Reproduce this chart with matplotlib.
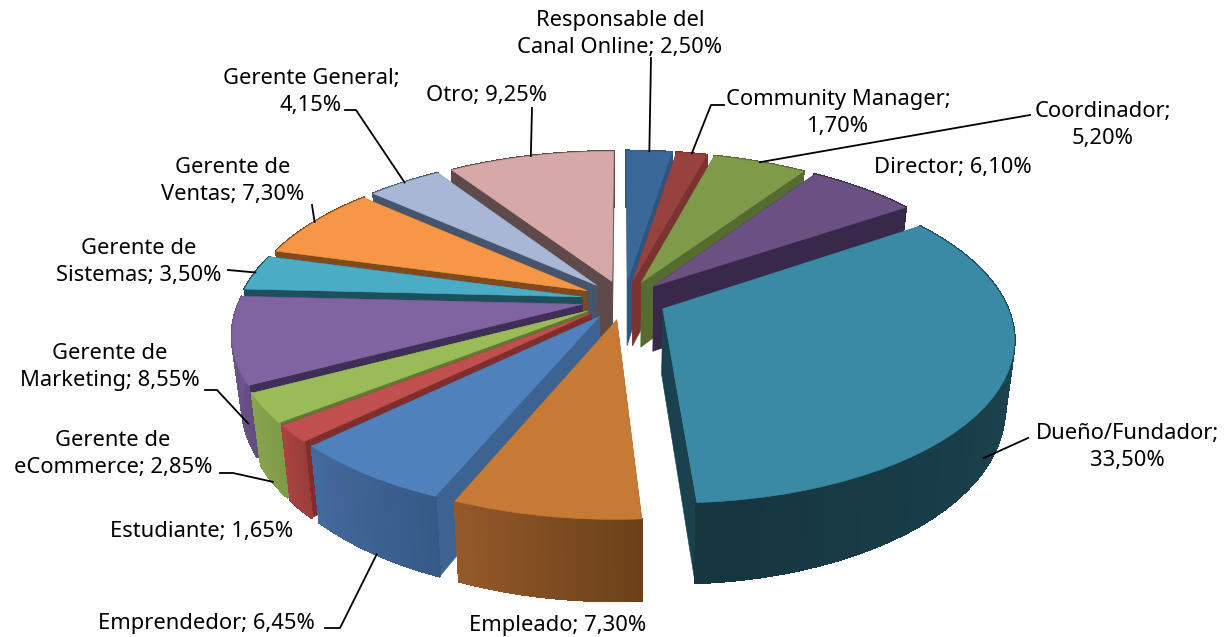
import numpy as np
import matplotlib
matplotlib.use("Agg")
import matplotlib.pyplot as plt
from matplotlib.patches import Polygon
from matplotlib.colors import to_rgb

names = ["Responsable del\nCanal Online", "Community Manager;\n", "Coordinador;\n", "Director", "Dueño/Fundador;\n",
         "Empleado", "Emprendedor", "Estudiante", "Gerente de\neCommerce", "Gerente de\nMarketing",
         "Gerente de\nSistemas", "Gerente de\nVentas", "Gerente General;\n", "Otro"]
values = [2.50, 1.70, 5.20, 6.10, 33.50, 7.30, 6.45, 1.65, 2.85, 8.55, 3.50, 7.30, 4.15, 9.25]
top_colors = ["#3A6899", "#984240", "#7F9A48", "#6A5083", "#3A8AA5", "#C77A36", "#4F81BD", "#BF504D",
              "#9BBB59", "#8064A2", "#4BACC6", "#F79646", "#A8B7D6", "#D6A8A8"]
cut_colors = ["#2E5580", "#7A3331", "#556B30", "#38284A", "#1A424E", "#8A5225", "#3D6392", "#7E2F2D",
              "#5F7A32", "#3F2E55", "#1E4F5C", "#7F4A1C", "#46556C", "#5E4A4A"]
wall_from = ["#2E5580", "#7A3331", "#556B30", "#38284A", "#1F4D5A", "#6C4119", "#365A88", "#993D3A",
             "#7F9A48", "#634E80", "#1E4F5C", "#7F4A1C", "#46556C", "#5E4A4A"]
wall_to = ["#2E5580", "#7A3331", "#556B30", "#38284A", "#163640", "#94592A", "#436A9C", "#A84340",
           "#87A34C", "#6F578E", "#1E4F5C", "#7F4A1C", "#46556C", "#5E4A4A"]

# label layout (pixels): text centre, then leader waypoints
label_xy = [(620, 34), (838, 113), (1103, 125), (953, 168), (1127, 447), (558, 625), (206, 623), (202, 532),
            (113, 454), (110, 367), (139, 262), (233, 181), (311, 92), (487, 96)]
leaders = [[(651, 58)], [(711, 105), (724, 105)], [(1030, 115)], [], [(1028, 438)], [], [(340, 628), (325, 628)], [],
           [(233, 473), (220, 473)], [(217, 390), (205, 390)], [(228, 270)], [(312, 205)],
           [(356, 110), (345, 110)], [(532, 108)]]
leader_z = [0, 0, 0, 0, 0.8, 0, 1, 0, 1, 0.7, 0, 0, 0, 0]
leader_frac = [.5, .5, .5, .5, .54, .5, .47, .5, .5, .13, .5, .5, .5, .5]

CX, CY, RX, RY, P, EXPL, DEPTH, TAPER = 624, 300, 342, 158, 0.17, 0.125, 66, 0.025

def project(x, y, z=0.0):
    s = 1 / (1 + P * y)
    return CX + RX * x * s * (1 - TAPER * z), CY - RY * y * s + DEPTH * z * s

fig = plt.figure(figsize=(12.24, 6.37), dpi=100)
ax = fig.add_axes([0, 0, 1, 1])
ax.set_xlim(0, 1224)
ax.set_ylim(637, 0)
ax.axis("off")

edges = np.concatenate([[0], np.cumsum(values)]) / 100 * 2 * np.pi
mids = (edges[:-1] + edges[1:]) / 2
order = np.argsort(-np.cos(mids))

def off(i):
    return EXPL * np.sin(mids[i]), EXPL * np.cos(mids[i])

for i in order:
    ox, oy = off(i)
    th = np.linspace(edges[i], edges[i + 1], 40)
    xs, ys = ox + np.sin(th), oy + np.cos(th)
    top = [project(a, b) for a, b in zip(xs, ys)]
    bot = [project(a, b, 1) for a, b in zip(xs, ys)]
    a0, a1 = project(ox, oy), project(ox, oy, 1)
    for k in (0, -1):
        ax.add_patch(Polygon([a0, top[k], bot[k], a1], closed=True, fc=cut_colors[i], ec=cut_colors[i], lw=0.4, zorder=2))
    c0, c1 = np.array(to_rgb(wall_from[i])), np.array(to_rgb(wall_to[i]))
    n = len(th) - 1
    for k in range(n):
        c = c0 + (c1 - c0) * k / max(n - 1, 1)
        ax.add_patch(Polygon([top[k], top[k + 1], bot[k + 1], bot[k]], closed=True, fc=c, ec=c, lw=1.2,
                             antialiased=False, zorder=2))
    ax.add_patch(Polygon([a0] + top, closed=True, fc=top_colors[i], ec=top_colors[i], lw=0.4, zorder=2))

for i, (name, v) in enumerate(zip(names, values)):
    val = f"{v:.2f}".replace(".", ",") + "%"
    txt = name + val if name.endswith("\n") else f"{name}; {val}"
    ax.text(*label_xy[i], txt, ha="center", va="center", fontsize=15.8, color="black",
            family="Noto Sans", linespacing=1.42, zorder=5)
    if leaders[i]:
        ox, oy = off(i)
        t = edges[i] + (edges[i + 1] - edges[i]) * leader_frac[i]
        start = project(ox + np.sin(t), oy + np.cos(t), leader_z[i])
        pts = [start] + leaders[i]
        ax.plot([p[0] for p in pts], [p[1] for p in pts], color="black", lw=1.3, zorder=4)

fig.savefig("out.png", dpi=100, facecolor="white")
